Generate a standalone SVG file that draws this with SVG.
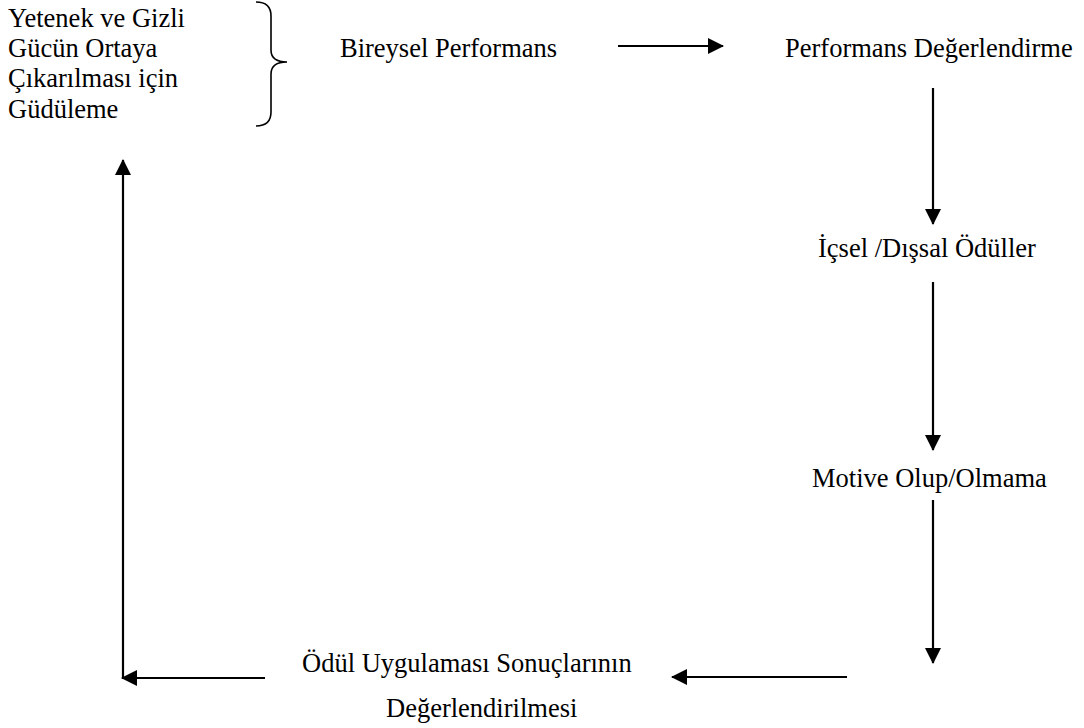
<svg xmlns="http://www.w3.org/2000/svg" width="1084" height="728" viewBox="0 0 1084 728">
<style>
text{font-family:"Liberation Serif","Times New Roman",serif;font-size:26.5px;fill:#000}
.c{stroke:#000;stroke-width:2.2;fill:none}
.b{stroke:#000;stroke-width:1.6;fill:none}
</style>
<defs>
<marker id="ah" viewBox="0 0 16 16" refX="15" refY="8" markerWidth="16" markerHeight="16" markerUnits="userSpaceOnUse" orient="auto">
<path d="M0,0 L16,8 L0,16 Z" fill="#000"/>
</marker>
</defs>
<rect width="1084" height="728" fill="#fff"/>
<g id="motivation">
<text x="8" y="27">Yetenek ve Gizli</text>
<text x="8" y="57">Gücün Ortaya</text>
<text x="8" y="87">Çıkarılması için</text>
<text x="8" y="118">Güdüleme</text>
<path class="b" d="M256,2 C266,2 271,6 271,16 L271,50 C271,58 276,62 287,62 C276,62 271,66 271,74 L271,112 C271,122 266,126 256,126"/>
</g>
<g id="bireysel"><text x="340" y="57">Bireysel Performans</text></g>
<g id="degerlendirme"><text x="785" y="57">Performans Değerlendirme</text></g>
<g id="oduller"><text x="818" y="257">İçsel /Dışsal Ödüller</text></g>
<g id="motive"><text x="812" y="487">Motive Olup/Olmama</text></g>
<g id="sonuc">
<text x="302" y="672">Ödül Uygulaması Sonuçlarının</text>
<text x="386" y="717">Değerlendirilmesi</text>
</g>
<g id="connectors">
<line class="c" x1="618" y1="46" x2="723" y2="46" marker-end="url(#ah)"/>
<line class="c" x1="933" y1="88" x2="933" y2="224" marker-end="url(#ah)"/>
<line class="c" x1="933" y1="282" x2="933" y2="450" marker-end="url(#ah)"/>
<line class="c" x1="933" y1="500" x2="933" y2="663" marker-end="url(#ah)"/>
<line class="c" x1="847" y1="677" x2="672" y2="677" marker-end="url(#ah)"/>
<line class="c" x1="265" y1="678" x2="122" y2="678" marker-end="url(#ah)"/>
<polyline class="c" points="123,679 123,160" marker-end="url(#ah)"/>
</g>
</svg>
